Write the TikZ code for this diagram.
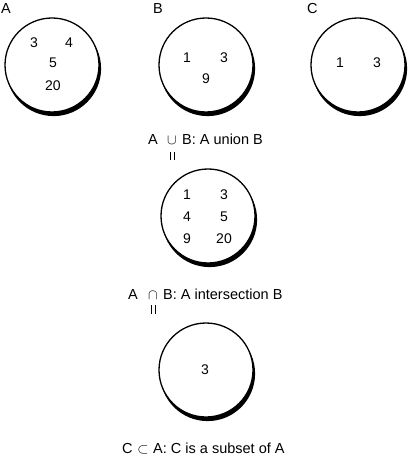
\documentclass[tikz,border=0pt]{standalone}
\usepackage{fontspec}
\setmainfont{Liberation Sans}
\begin{document}
\begin{tikzpicture}[x=1bp,y=-1bp,
  setc/.style={circle,draw=black,line width=1.3bp,fill=white,minimum size=94bp,inner sep=0pt},
  shadowc/.style={fill=black},
  num/.style={inner sep=0pt,font=\fontsize{14bp}{16bp}\selectfont},
  lbl/.style={inner sep=0pt,anchor=base west,font=\fontsize{14.5bp}{17bp}\selectfont},
  sym/.style={inner sep=0pt,anchor=base,font=\fontsize{13.5bp}{16bp}\selectfont},
  eqbar/.style={line width=0.9bp}]
\useasboundingbox (0,0) rectangle (407,457);
% centres
\coordinate (cA) at (52,65);
\coordinate (cB) at (206,65);
\coordinate (cC) at (358,65);
\coordinate (cU) at (208,216);
\coordinate (cI) at (206,370);
% shadows
\foreach \c in {cA,cB,cC,cU,cI}
  \fill[shadowc] ([shift={(1.6,3.6)}]\c) circle (47.5);
% circles
\node[setc] (A) at (cA) {};
\node[setc] (B) at (cB) {};
\node[setc] (C) at (cC) {};
\node[setc] (U) at (cU) {};
\node[setc] (I) at (cI) {};
% set names
\node[lbl] (la) at (1,13.5) {A};
\node[lbl] (lb) at (153,13.5) {B};
\node[lbl] (lc) at (307,13.5) {C};
% A elements
\node[num] (a3) at (34,43) {3};
\node[num] (a4) at (69,43) {4};
\node[num] (a5) at (53,63) {5};
\node[num] (a20) at (53,86) {20};
% B elements
\node[num] (b1) at (187,58) {1};
\node[num] (b3) at (224,58) {3};
\node[num] (b9) at (206,79) {9};
% C elements
\node[num] (c1) at (340,63) {1};
\node[num] (c3) at (377,63) {3};
% union elements
\node[num] (u1) at (187,195) {1};
\node[num] (u3) at (224,195) {3};
\node[num] (u4) at (187,217) {4};
\node[num] (u5) at (224,217) {5};
\node[num] (u9) at (187,239) {9};
\node[num] (u20) at (224,239) {20};
% intersection element
\node[num] (i3) at (205,370) {3};
% union caption
\node[lbl] (ua) at (148,144.5) {A};
\node[sym] (ucup) at (172,144.5) {$\cup$};
\node[lbl] (ut) at (182,144.5) {B: A union B};
\coordinate (ub1) at (170,152.5);
\coordinate (ub2) at (174,152.5);
\draw[eqbar] (ub1) -- ++(0,8);
\draw[eqbar] (ub2) -- ++(0,8);
% intersection caption
\node[lbl] (ia) at (128,299.5) {A};
\node[sym] (icap) at (153,299.5) {$\cap$};
\node[lbl] (it) at (163,299.5) {B: A intersection B};
\coordinate (ib1) at (151,305);
\coordinate (ib2) at (155,305);
\draw[eqbar] (ib1) -- ++(0,8.5);
\draw[eqbar] (ib2) -- ++(0,8.5);
% subset caption
\node[lbl] (sc) at (122,453) {C};
\node[sym] (ssub) at (143,453) {$\subset$};
\node[lbl] (st) at (153,453) {A: C is a subset of A};
\end{tikzpicture}
\end{document}
